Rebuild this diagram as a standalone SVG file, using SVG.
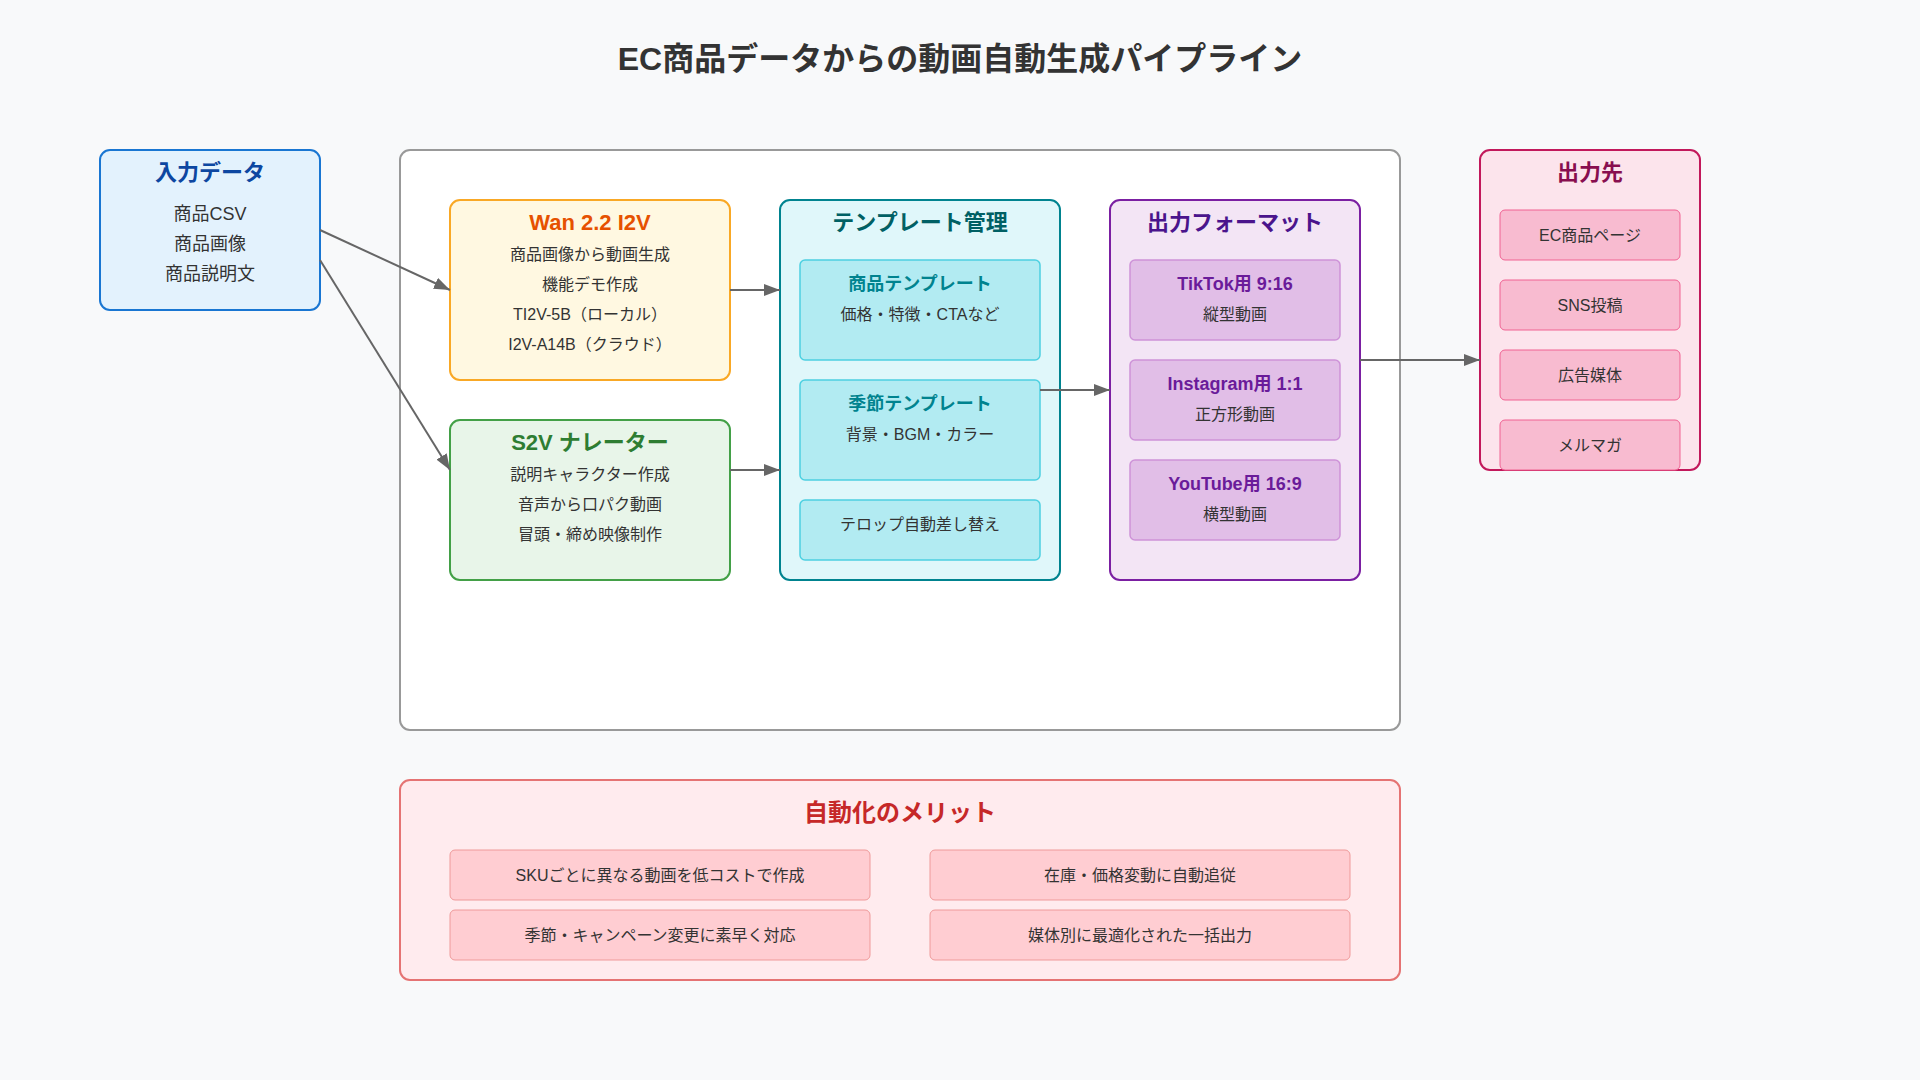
<svg xmlns="http://www.w3.org/2000/svg" width="1920" height="1080" viewBox="0 0 1920 1080">
  <defs>
    <marker id="arrow" viewBox="0 0 16 12" refX="16" refY="6" markerWidth="16" markerHeight="12" markerUnits="userSpaceOnUse" orient="auto">
      <path d="M0,0 L16,6 L0,12 z" fill="#666"/>
    </marker>
    <style>
      text { font-family: "Liberation Sans", "Noto Sans CJK JP", sans-serif; text-anchor: middle; }
      .title { font-size: 32px; font-weight: bold; fill: #333; }
      .head { font-size: 22px; font-weight: bold; }
      .head-lg { font-size: 24px; font-weight: bold; }
      .sub { font-size: 18px; font-weight: bold; }
      .lead { font-size: 18px; fill: #333; }
      .small { font-size: 16px; fill: #333; }
      .edge { stroke: #666; stroke-width: 2; fill: none; marker-end: url(#arrow); }
    </style>
  </defs>

  <rect width="1920" height="1080" fill="#f8f9fa"/>

  <text class="title" x="960" y="70">EC商品データからの動画自動生成パイプライン</text>

  <!-- processing area -->
  <rect id="process-area" x="400" y="150" width="1000" height="580" rx="10" fill="#ffffff" stroke="#999" stroke-width="2"/>

  <!-- input data -->
  <g id="input">
    <rect x="100" y="150" width="220" height="160" rx="10" fill="#e3f2fd" stroke="#1976d2" stroke-width="2"/>
    <text class="head" x="210" y="180" fill="#0d47a1">入力データ</text>
    <text class="lead" x="210" y="220">商品CSV</text>
    <text class="lead" x="210" y="250">商品画像</text>
    <text class="lead" x="210" y="280">商品説明文</text>
  </g>

  <!-- Wan 2.2 I2V -->
  <g id="wan">
    <rect x="450" y="200" width="280" height="180" rx="10" fill="#fff8e1" stroke="#f9a825" stroke-width="2"/>
    <text class="head" x="590" y="230" fill="#e65100">Wan 2.2 I2V</text>
    <text class="small" x="590" y="260">商品画像から動画生成</text>
    <text class="small" x="590" y="290">機能デモ作成</text>
    <text class="small" x="590" y="320">TI2V-5B（ローカル）</text>
    <text class="small" x="590" y="350">I2V-A14B（クラウド）</text>
  </g>

  <!-- S2V narrator -->
  <g id="s2v">
    <rect x="450" y="420" width="280" height="160" rx="10" fill="#e8f5e9" stroke="#43a047" stroke-width="2"/>
    <text class="head" x="590" y="450" fill="#2e7d32">S2V ナレーター</text>
    <text class="small" x="590" y="480">説明キャラクター作成</text>
    <text class="small" x="590" y="510">音声から口パク動画</text>
    <text class="small" x="590" y="540">冒頭・締め映像制作</text>
  </g>

  <!-- template management -->
  <g id="templates">
    <rect x="780" y="200" width="280" height="380" rx="10" fill="#e0f7fa" stroke="#00838f" stroke-width="2"/>
    <text class="head" x="920" y="230" fill="#006064">テンプレート管理</text>
    <rect x="800" y="260" width="240" height="100" rx="5" fill="#b2ebf2" stroke="#4dd0e1" stroke-width="1.5"/>
    <text class="sub" x="920" y="290" fill="#00838f">商品テンプレート</text>
    <text class="small" x="920" y="320">価格・特徴・CTAなど</text>
    <rect x="800" y="380" width="240" height="100" rx="5" fill="#b2ebf2" stroke="#4dd0e1" stroke-width="1.5"/>
    <text class="sub" x="920" y="410" fill="#00838f">季節テンプレート</text>
    <text class="small" x="920" y="440">背景・BGM・カラー</text>
    <rect x="800" y="500" width="240" height="60" rx="5" fill="#b2ebf2" stroke="#4dd0e1" stroke-width="1.5"/>
    <text class="small" x="920" y="530">テロップ自動差し替え</text>
  </g>

  <!-- output formats -->
  <g id="formats">
    <rect x="1110" y="200" width="250" height="380" rx="10" fill="#f3e5f5" stroke="#7b1fa2" stroke-width="2"/>
    <text class="head" x="1235" y="230" fill="#4a148c">出力フォーマット</text>
    <rect x="1130" y="260" width="210" height="80" rx="5" fill="#e1bee7" stroke="#ce93d8" stroke-width="1.5"/>
    <text class="sub" x="1235" y="290" fill="#6a1b9a">TikTok用 9:16</text>
    <text class="small" x="1235" y="320">縦型動画</text>
    <rect x="1130" y="360" width="210" height="80" rx="5" fill="#e1bee7" stroke="#ce93d8" stroke-width="1.5"/>
    <text class="sub" x="1235" y="390" fill="#6a1b9a">Instagram用 1:1</text>
    <text class="small" x="1235" y="420">正方形動画</text>
    <rect x="1130" y="460" width="210" height="80" rx="5" fill="#e1bee7" stroke="#ce93d8" stroke-width="1.5"/>
    <text class="sub" x="1235" y="490" fill="#6a1b9a">YouTube用 16:9</text>
    <text class="small" x="1235" y="520">横型動画</text>
  </g>

  <!-- destinations -->
  <g id="destinations">
    <rect x="1480" y="150" width="220" height="320" rx="10" fill="#fce4ec" stroke="#c2185b" stroke-width="2"/>
    <text class="head" x="1590" y="180" fill="#880e4f">出力先</text>
    <rect x="1500" y="210" width="180" height="50" rx="5" fill="#f8bbd0" stroke="#f06292" stroke-width="1"/>
    <text class="small" x="1590" y="241">EC商品ページ</text>
    <rect x="1500" y="280" width="180" height="50" rx="5" fill="#f8bbd0" stroke="#f06292" stroke-width="1"/>
    <text class="small" x="1590" y="311">SNS投稿</text>
    <rect x="1500" y="350" width="180" height="50" rx="5" fill="#f8bbd0" stroke="#f06292" stroke-width="1"/>
    <text class="small" x="1590" y="381">広告媒体</text>
    <rect x="1500" y="420" width="180" height="50" rx="5" fill="#f8bbd0" stroke="#f06292" stroke-width="1"/>
    <text class="small" x="1590" y="451">メルマガ</text>
  </g>

  <!-- benefits -->
  <g id="benefits">
    <rect x="400" y="780" width="1000" height="200" rx="10" fill="#ffebee" stroke="#e57373" stroke-width="2"/>
    <text class="head-lg" x="900" y="821" fill="#c62828">自動化のメリット</text>
    <rect x="450" y="850" width="420" height="50" rx="5" fill="#ffcdd2" stroke="#ef9a9a" stroke-width="1"/>
    <text class="small" x="660" y="881">SKUごとに異なる動画を低コストで作成</text>
    <rect x="930" y="850" width="420" height="50" rx="5" fill="#ffcdd2" stroke="#ef9a9a" stroke-width="1"/>
    <text class="small" x="1140" y="881">在庫・価格変動に自動追従</text>
    <rect x="450" y="910" width="420" height="50" rx="5" fill="#ffcdd2" stroke="#ef9a9a" stroke-width="1"/>
    <text class="small" x="660" y="941">季節・キャンペーン変更に素早く対応</text>
    <rect x="930" y="910" width="420" height="50" rx="5" fill="#ffcdd2" stroke="#ef9a9a" stroke-width="1"/>
    <text class="small" x="1140" y="941">媒体別に最適化された一括出力</text>
  </g>

  <!-- connectors -->
  <g id="connectors">
    <line class="edge" x1="320" y1="230" x2="450" y2="290"/>
    <line class="edge" x1="320" y1="260" x2="450" y2="470"/>
    <line class="edge" x1="730" y1="290" x2="780" y2="290"/>
    <line class="edge" x1="730" y1="470" x2="780" y2="470"/>
    <line class="edge" x1="1040" y1="390" x2="1110" y2="390"/>
    <line class="edge" x1="1360" y1="360" x2="1480" y2="360"/>
  </g>
</svg>
